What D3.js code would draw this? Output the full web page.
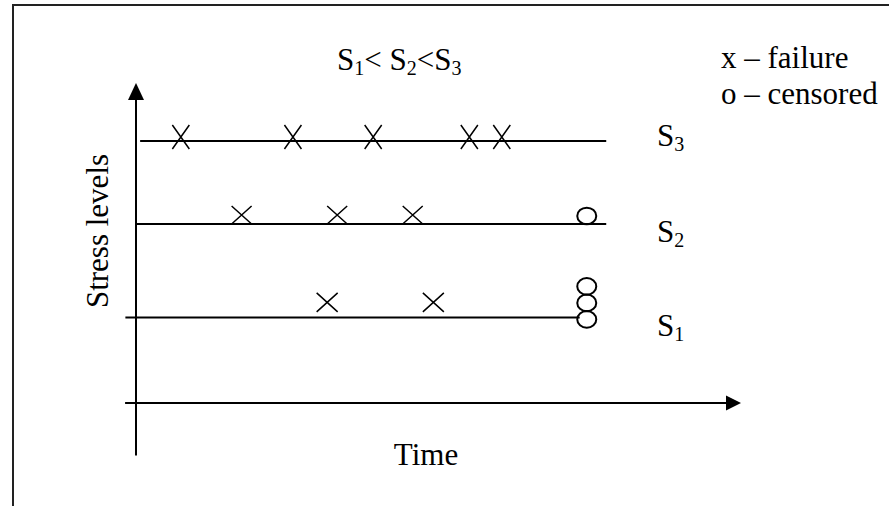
<!DOCTYPE html>
<html>
<head>
<meta charset="utf-8">
<script src="https://cdn.jsdelivr.net/npm/d3@7"></script>
<style>
  html, body { margin: 0; padding: 0; background: #fff; }
  svg { display: block; font-family: "Liberation Serif", "Times New Roman", serif; }
</style>
</head>
<body>
<div id="chart"></div>
<script>
// stress levels (categories) and their position on the stress scale
const levels = ["S1", "S2", "S3"];
const levelValues = [0.98, 2.05, 3.0];

// start / end of each level's line (time units)
const lineStart = [-1.8, 0, 0.7];
const lineEnd = [75.2, 79.7, 79.7];

// failure times per level
const failuresS1 = [32.4, 50.4];
const failuresS2 = [17.9, 34.1, 46.9];
const failuresS3 = [7.6, 26.6, 40.2, 56.5, 62.0];

// censored times per level
const censoredS1 = [76.4, 76.4, 76.4];
const censoredS2 = [76.4];
const censoredS3 = [];

const legendLines = ["x \u2013 failure", "o \u2013 censored"];

function plot(){
  const width = 889;
  const height = 506;

  const x = d3.scaleLinear()
    .domain([0, 100])
    .range([136, 726]);

  const y = d3.scaleLinear()
    .domain([0, 3])
    .range([403, 141]);

  const failures = [failuresS1, failuresS2, failuresS3];
  const censored = [censoredS1, censoredS2, censoredS3];

  const svg = d3.select("#chart")
    .append("svg")
    .attr("width", width)
    .attr("height", height)
    .attr("viewBox", [0, 0, width, height]);

  // outer frame (runs off the right and bottom edges)
  svg.append("rect")
    .attr("x", 13).attr("y", 5)
    .attr("width", 900).attr("height", 520)
    .attr("fill", "none")
    .attr("stroke", "#222")
    .attr("stroke-width", 2);

  // time axis
  svg.append("line")
    .attr("x1", x(-1.85)).attr("x2", x(100))
    .attr("y1", y(0)).attr("y2", y(0))
    .attr("stroke", "#000").attr("stroke-width", 2);
  svg.append("path")
    .attr("d", `M${x(100)},${y(0) - 7.5}L${x(100) + 15},${y(0)}L${x(100)},${y(0) + 7.5}Z`)
    .attr("fill", "#000");

  // stress axis
  svg.append("line")
    .attr("x1", x(0)).attr("x2", x(0))
    .attr("y1", y(-0.6)).attr("y2", 100)
    .attr("stroke", "#000").attr("stroke-width", 2);
  svg.append("path")
    .attr("d", `M${x(0) - 8},100L${x(0)},83L${x(0) + 8},100Z`)
    .attr("fill", "#000");

  // level lines
  svg.append("g")
    .selectAll()
    .data(levels)
    .join("line")
      .attr("x1", (d, i) => x(lineStart[i]))
      .attr("x2", (d, i) => x(lineEnd[i]))
      .attr("y1", (d, i) => y(levelValues[i]))
      .attr("y2", (d, i) => y(levelValues[i]))
      .attr("stroke", "#000")
      .attr("stroke-width", 2);

  // cross shape per level: [half width, half height, centre offset]
  const crossStyle = [[10.5, 9.5, -15], [10, 9, -9], [8.5, 12, -4]];

  const crosses = failures.flatMap((arr, i) => arr.map(t => ({level: i, t})));
  svg.append("g")
    .attr("stroke", "#000")
    .attr("stroke-width", 1.5)
    .attr("fill", "none")
    .selectAll()
    .data(crosses)
    .join("path")
      .attr("d", d => {
        const [w, h, off] = crossStyle[d.level];
        const cx = x(d.t), cy = y(levelValues[d.level]) + off;
        return `M${cx - w},${cy - h}L${cx + w},${cy + h}M${cx - w},${cy + h}L${cx + w},${cy - h}`;
      });

  // censored circles, stacked when several share a time
  const circleBase = [2, -8, -8];
  const circles = censored.flatMap((arr, i) => arr.map((t, k) => ({level: i, t, k})));
  svg.append("g")
    .attr("stroke", "#000")
    .attr("stroke-width", 2)
    .attr("fill", "none")
    .selectAll()
    .data(circles)
    .join("ellipse")
      .attr("cx", d => x(d.t))
      .attr("cy", d => y(levelValues[d.level]) + circleBase[d.level] - d.k * 16.5)
      .attr("rx", 9.5)
      .attr("ry", 8.3);

  // level labels with subscripts
  const labelOff = [19, 18, 5];
  const lab = svg.append("g")
    .attr("font-size", 31)
    .selectAll()
    .data(levels)
    .join("text")
      .attr("x", 657)
      .attr("y", (d, i) => y(levelValues[i]) + labelOff[i]);
  lab.append("tspan").text(d => d[0]);
  lab.append("tspan")
    .attr("font-size", 20)
    .attr("dy", 5)
    .text(d => d.slice(1));

  // title S1< S2<S3
  const title = svg.append("text")
    .attr("x", 337)
    .attr("y", 70)
    .attr("font-size", 31);
  const parts = [["S", 0], ["1", 1], ["< S", 0], ["2", 1], ["<S", 0], ["3", 1]];
  parts.forEach(([s, sub], j) => {
    const prevSub = j > 0 && parts[j - 1][1];
    title.append("tspan")
      .attr("font-size", sub ? 20 : 31)
      .attr("dy", sub ? 5 : (prevSub ? -5 : 0))
      .text(s);
  });

  // legend
  svg.append("g")
    .attr("font-size", 31)
    .selectAll()
    .data(legendLines)
    .join("text")
      .attr("x", 721)
      .attr("y", (d, i) => 68 + i * 35.5)
      .text(d => d);

  // axis titles
  svg.append("text")
    .attr("x", 426)
    .attr("y", 465)
    .attr("text-anchor", "middle")
    .attr("font-size", 31)
    .text("Time");

  svg.append("text")
    .attr("transform", "translate(108,231) rotate(-90)")
    .attr("text-anchor", "middle")
    .attr("font-size", 31)
    .text("Stress levels");
}

plot();
</script>
</body>
</html>
